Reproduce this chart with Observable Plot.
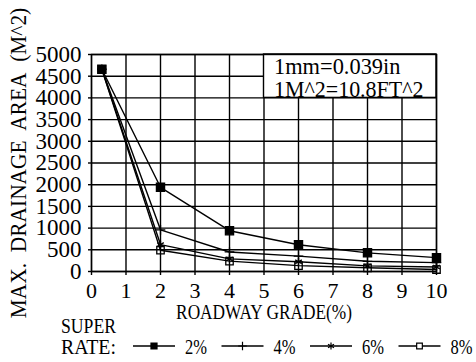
<!DOCTYPE html>
<html><head><meta charset="utf-8">
<script src="https://cdn.jsdelivr.net/npm/d3@7"></script>
<script src="https://cdn.jsdelivr.net/npm/@observablehq/plot@0.6"></script>
<style>
body{margin:0;background:#fff;}
#chart{width:476px;height:362px;overflow:hidden;}
</style></head><body><div id="chart"></div>
<script>
// ---- data ----
const grades = [0.3, 2, 4, 6, 8, 10];
const superRates = ["2%", "4%", "6%", "8%"];
const area2 = [4660, 1940, 940, 615, 430, 320];
const area4 = [4660, 960, 450, 355, 235, 205];
const area6 = [4660, 620, 290, 225, 130, 105];
const area8 = [4660, 490, 240, 135, 85, 45];
const xTicks = [0, 1, 2, 3, 4, 5, 6, 7, 8, 9, 10];
const yTicks = [0, 500, 1000, 1500, 2000, 2500, 3000, 3500, 4000, 4500, 5000];
const noteLines = ["1mm=0.039in", "1M^2=10.8FT^2"];
const noteBox = [{x1: 5, x2: 10, y1: 4000, y2: 5000}];
const xLabel = "ROADWAY GRADE(%)";
const yLabel = "MAX.\u00a0 DRAINAGE\u00a0 AREA\u00a0 (M^2)";
const legendTitle = ["SUPER", "RATE:"];

const seriesValues = {"2%": area2, "4%": area4, "6%": area6, "8%": area8};
const rows = superRates.flatMap(rate => grades.map((g, i) => ({rate, grade: g, area: seriesValues[rate][i]})));
const bySeries = r => rows.filter(d => d.rate === r);

const symbolStyle = {
  "2%": {symbol: "square", r: 4.6, fill: "black", stroke: "black"},
  "4%": {symbol: "plus", r: 3.2, fill: "none", stroke: "black"},
  "6%": {symbol: "asterisk", r: 3.6, fill: "none", stroke: "black"},
  "8%": {symbol: "square", r: 4.2, fill: "none", stroke: "black"}
};

const FONT = '"Liberation Serif","Times New Roman",serif';
const LW = 1.4;

const chart = Plot.plot({
  width: 476,
  height: 362,
  marginLeft: 91,
  marginRight: 40,
  marginTop: 54,
  marginBottom: 91,
  style: {fontFamily: FONT, fontSize: "22px", background: "white", color: "black"},
  x: {domain: [0, 10]},
  y: {domain: [0, 5000]},
  marks: [
    Plot.gridX(xTicks, {stroke: "black", strokeOpacity: 1, strokeWidth: LW}),
    Plot.gridY(yTicks, {stroke: "black", strokeOpacity: 1, strokeWidth: LW}),
    Plot.axisX(xTicks, {tickSize: 4, tickPadding: 7, label: null, tickFormat: d => String(d), fontSize: 22, strokeWidth: LW}),
    Plot.axisY(yTicks, {tickSize: 3, tickPadding: 7, label: null, tickFormat: d => String(d), fontSize: 23, strokeWidth: LW}),
    Plot.line(rows, {x: "grade", y: "area", z: "rate", stroke: "black", strokeWidth: LW}),
    ...["8%", "6%", "4%", "2%"].map(r => Plot.dot(bySeries(r), {x: "grade", y: "area", ...symbolStyle[r], strokeWidth: 1.3})),
    Plot.rect(noteBox, {x1: "x1", x2: "x2", y1: "y1", y2: "y2", fill: "white", stroke: "black", strokeWidth: LW}),
    Plot.text([noteLines.join("\n")], {x: noteBox[0].x1, y: noteBox[0].y2, textAnchor: "start", lineAnchor: "top", lineHeight: 1.0, dx: 10, dy: 3, fontSize: 23}),
    Plot.frame({stroke: "black", strokeWidth: LW}),
    Plot.text([xLabel], {frameAnchor: "bottom", textAnchor: "middle", dy: 47, fontSize: 22}),
    Plot.text([yLabel], {frameAnchor: "left", textAnchor: "middle", rotate: -90, dx: -73, fontSize: 23})
  ]
});

// ---- legend (below the plot frame) ----
const svg = d3.select(chart);
const leg = svg.append("g").attr("font-family", FONT).attr("font-size", 22).attr("fill", "black").attr("text-anchor", "start");
legendTitle.forEach((t, i) => leg.append("text").attr("transform", `translate(61,${333 + i * 21})`).text(t));
const d3sym = {square: d3.symbolSquare, plus: d3.symbolPlus, asterisk: d3.symbolAsterisk};
superRates.forEach((rate, i) => {
  const x0 = 133 + i * 88.5, yL = 346;
  const g = leg.append("g");
  g.append("line").attr("x1", x0).attr("x2", x0 + 42).attr("y1", yL).attr("y2", yL).attr("stroke", "black").attr("stroke-width", LW);
  const s = symbolStyle[rate];
  const r = rate === "2%" ? 3.4 : rate === "8%" ? 3.2 : s.r * 0.9;
  g.append("path")
    .attr("transform", `translate(${x0 + 21},${yL})`)
    .attr("d", d3.symbol(d3sym[s.symbol], Math.PI * r * r)())
    .attr("fill", s.fill === "none" ? (rate === "8%" ? "white" : "none") : s.fill)
    .attr("stroke", "black").attr("stroke-width", 1.2);
  g.append("text").attr("transform", `translate(${x0 + 52},354)`).text(rate);
});

document.getElementById("chart").appendChild(chart);

// emulate the half-width (monospaced) serif lettering of the original
function halfWidth(el) {
  const fs = parseFloat(getComputedStyle(el).fontSize);
  const tspans = el.querySelectorAll("tspan");
  if (tspans.length) {
    tspans.forEach(t => {
      if (!t.textContent) return;
      t.setAttribute("textLength", (t.textContent.length * 0.5 * fs).toFixed(1));
      t.setAttribute("lengthAdjust", "spacingAndGlyphs");
    });
    return;
  }
  const txt = el.textContent;
  if (!txt) return;
  const natural = el.getComputedTextLength();
  if (!natural) return;
  const sx = (txt.length * 0.5 * fs) / natural;
  const x = parseFloat(el.getAttribute("x")) || 0;
  const tr = el.getAttribute("transform") || "";
  el.setAttribute("transform", `${tr} translate(${x},0) scale(${sx.toFixed(4)},1) translate(${-x},0)`);
}
chart.querySelectorAll("text").forEach(halfWidth);
</script>
</body></html>
